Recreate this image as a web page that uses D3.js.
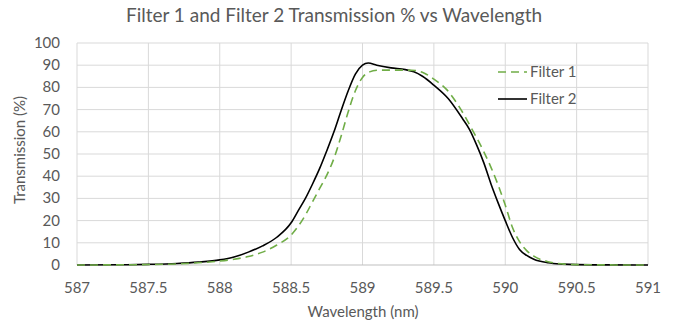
<!DOCTYPE html>
<html>
<head>
<meta charset="utf-8">
<script src="https://cdn.jsdelivr.net/npm/d3@7"></script>
<style>
  body { margin: 0; background: #fff; }
  text { font-family: Lato, "Open Sans", sans-serif; fill: #595959; }
</style>
</head>
<body>
<div id="chart"></div>
<script>
// wavelength (nm) and transmission (%)
var wl1 = [587.0, 587.5, 587.8, 588.0, 588.1, 588.2, 588.3, 588.4, 588.5, 588.55, 588.6, 588.65, 588.7, 588.75, 588.8, 588.85, 588.9, 588.95, 589.0, 589.05, 589.1, 589.2, 589.3, 589.37, 589.43, 589.5, 589.59, 589.68, 589.76, 589.85, 589.9, 589.95, 590.0, 590.05, 590.1, 590.15, 590.2, 590.3, 590.4, 590.5, 590.7, 591.0];
var filter1 = [0, 0.2, 0.8, 1.8, 2.6, 3.8, 5.8, 9, 13.5, 17.5, 22.5, 28.5, 34.5, 40.5, 48, 58, 69, 78.5, 84.5, 87, 87.7, 87.8, 87.8, 87.6, 86.5, 83.7, 79, 71, 62, 51, 44, 36, 27, 17, 10.5, 6.5, 4, 1.5, 0.5, 0.15, 0.05, 0];

var wl2 = [587.0, 587.3, 587.5, 587.7, 587.85, 588.0, 588.1, 588.2, 588.3, 588.4, 588.5, 588.55, 588.6, 588.65, 588.7, 588.75, 588.8, 588.85, 588.9, 588.95, 589.0, 589.04, 589.1, 589.2, 589.3, 589.36, 589.42, 589.5, 589.6, 589.7, 589.75, 589.8, 589.85, 589.9, 589.95, 590.0, 590.05, 590.1, 590.15, 590.2, 590.3, 590.4, 590.5, 590.7, 591.0];
var filter2 = [0, 0.1, 0.3, 0.7, 1.3, 2.3, 3.6, 5.8, 8.6, 12.5, 19, 24.5, 30, 36.5, 43.5, 51.5, 60, 69.5, 78.5, 86, 90, 91, 90, 88.8, 88, 87, 85, 81, 75, 66, 61, 54, 46, 36.5, 28, 20, 12.5, 7, 4.3, 2.6, 1.0, 0.4, 0.15, 0.05, 0];

var xTicks = [587, 587.5, 588, 588.5, 589, 589.5, 590, 590.5, 591];
var yTicks = [0, 10, 20, 30, 40, 50, 60, 70, 80, 90, 100];
var seriesNames = ["Filter 1", "Filter 2"];

var width = 681, height = 326;
var margin = {left: 77, right: 33, top: 43, bottom: 61};

var svg = d3.select("#chart").append("svg")
    .attr("width", width)
    .attr("height", height);

var x = d3.scaleLinear().domain([587, 591]).range([margin.left, width - margin.right]);
var y = d3.scaleLinear().domain([0, 100]).range([height - margin.bottom, margin.top]);

// gridlines
svg.append("g").selectAll("line").data(yTicks.slice(1)).enter().append("line")
    .attr("x1", x(587)).attr("x2", x(591))
    .attr("y1", d => y(d)).attr("y2", d => y(d))
    .attr("stroke", "#d9d9d9").attr("stroke-width", 1);
svg.append("g").selectAll("line").data(xTicks).enter().append("line")
    .attr("x1", d => x(d)).attr("x2", d => x(d))
    .attr("y1", y(0)).attr("y2", y(100))
    .attr("stroke", "#d9d9d9").attr("stroke-width", 1);
svg.append("line")
    .attr("x1", x(587)).attr("x2", x(591))
    .attr("y1", y(0)).attr("y2", y(0))
    .attr("stroke", "#bfbfbf");

// tick labels
svg.append("g").selectAll("text").data(xTicks).enter().append("text")
    .attr("x", d => x(d)).attr("y", y(0) + 28)
    .attr("text-anchor", "middle")
    .style("font-size", "15px")
    .text(d => d);
svg.append("g").selectAll("text").data(yTicks).enter().append("text")
    .attr("x", margin.left - 17).attr("y", d => y(d) + 5)
    .attr("text-anchor", "end")
    .style("font-size", "15px")
    .text(d => d);

// titles
svg.append("text")
    .attr("x", 334).attr("y", 22)
    .attr("text-anchor", "middle")
    .style("font-size", "19px")
    .text("Filter 1 and Filter 2 Transmission % vs Wavelength");
svg.append("text")
    .attr("x", 363).attr("y", 317)
    .attr("text-anchor", "middle")
    .style("font-size", "15px")
    .text("Wavelength (nm)");
svg.append("text")
    .attr("transform", "translate(25,150) rotate(-90)")
    .attr("text-anchor", "middle")
    .style("font-size", "15px")
    .text("Transmission (%)");

// lines
var line = d3.line()
    .x(d => x(d[0]))
    .y(d => y(d[1]))
    .curve(d3.curveMonotoneX);

var data1 = wl1.map((w, i) => [w, filter1[i]]);
var data2 = wl2.map((w, i) => [w, filter2[i]]);

svg.append("path").datum(data2)
    .attr("d", line)
    .attr("fill", "none")
    .attr("stroke", "#000")
    .attr("stroke-width", 1.6);
svg.append("path").datum(data1)
    .attr("d", line)
    .attr("fill", "none")
    .attr("stroke", "#70ad47")
    .attr("stroke-width", 1.6)
    .attr("stroke-dasharray", "8,5");

// legend
var legend = svg.append("g").selectAll("g").data(seriesNames).enter().append("g")
    .attr("transform", (d, i) => "translate(498," + (72 + i * 27) + ")");
legend.append("line")
    .attr("x1", 0).attr("x2", 29).attr("y1", 0).attr("y2", 0)
    .attr("stroke", (d, i) => i === 0 ? "#70ad47" : "#000")
    .attr("stroke-width", 1.6)
    .attr("stroke-dasharray", (d, i) => i === 0 ? "8,5" : null);
legend.append("text")
    .attr("x", 32).attr("y", 5)
    .style("font-size", "15px")
    .text(d => d);
</script>
</body>
</html>
